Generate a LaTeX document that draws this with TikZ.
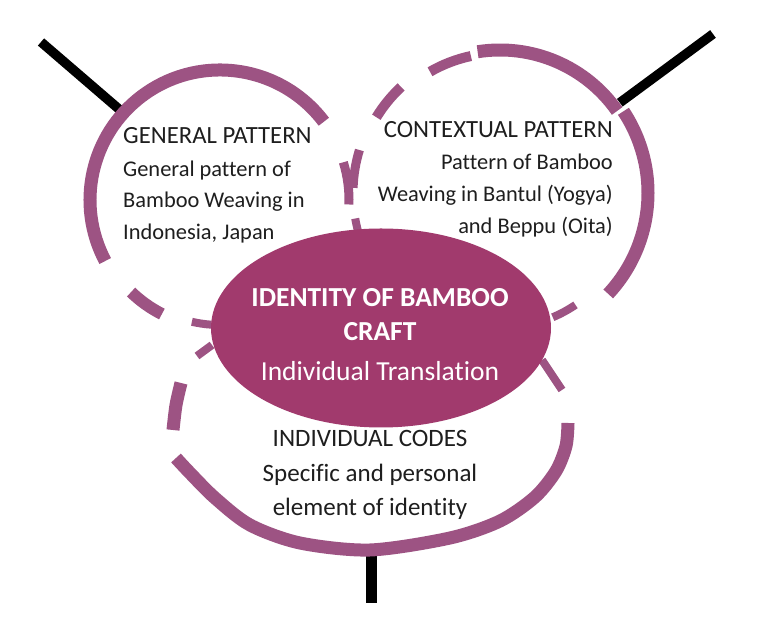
\documentclass[tikz,border=0pt]{standalone}
\usepackage{fontspec}
\setmainfont{Carlito}[Ligatures={NoCommon,NoContextual}]
\usetikzlibrary{shapes.geometric,calc}
\definecolor{RingMauve}{HTML}{9D5383}
\definecolor{HubPlum}  {HTML}{A13A6D}
\definecolor{InkGray}  {HTML}{1E1E1E}

\begin{document}
\begin{tikzpicture}[x=1pt,y=1pt,
    ring/.style={draw=RingMauve,line width=#1},
    ring/.default=13pt,
    stick/.style={draw=black,line width=9.5pt},
    headtxt/.style={text=InkGray,inner sep=0pt,font=\fontsize{24.7}{30}\selectfont},
    bodytxt/.style={text=InkGray,inner sep=0pt,font=\fontsize{22.4}{30}\selectfont},
    lowtxt/.style={text=InkGray,inner sep=0pt,font=\fontsize{25}{30}\selectfont},
    hubtxt/.style={text=white,inner sep=0pt,anchor=base,font=\fontsize{27.5}{32}\selectfont}]
    \fill[white] (0,0) rectangle (768,636);
    \useasboundingbox (0,0) rectangle (768,636);
    \coordinate (genC) at (220,436);
    \coordinate (ctxC) at (500,443);
    % black sticks
    \coordinate (genTip) at ([shift={(138:133pt)}]genC);
    \coordinate (genEnd) at (41,594);
    \coordinate (ctxTip) at ([shift={(37:150pt)}]ctxC);
    \coordinate (ctxEnd) at (713,602);
    \coordinate (indTip) at (371.5,84);
    \coordinate (indEnd) at (371.5,33);
    \draw[stick] (genTip) -- (genEnd);
    \draw[stick] (ctxTip) -- (ctxEnd);
    \draw[stick,line width=11pt] (indTip) -- (indEnd);
    % general pattern ring
    \foreach \a/\b/\r/\w in {37/208/130pt/13pt, -2/17/129pt/9pt, 226/243/128pt/12pt, 257/266/125pt/8pt}{
      \draw[ring=\w] ([shift={(\a:\r)}]genC) arc[start angle=\a,end angle=\b,radius=\r];
    }
    % contextual pattern ring
    \foreach \a/\b/\r/\w in {35/99/143pt/13pt, 102/120/140pt/10pt, 133/148.5/145pt/10pt,
                             163/178/147pt/9pt, 190/195/147pt/8pt, -43/33.5/148pt/13pt, -67/-56/135pt/8pt}{
      \draw[ring=\w] ([shift={(\a:\r)}]ctxC) arc[start angle=\a,end angle=\b,radius=\r];
    }
    % individual codes ring
    \draw[ring] plot[smooth] coordinates {(176,178) (190,163) (215,138) (250,111) (300,93) (370,86)
      (450,98) (500,115) (535,139) (556,165) (566,190) (568,213)};
    \draw[ring] plot[smooth] coordinates {(181,253) (176,231) (173,206)};
    \draw[ring=8pt] (197,280) -- (212,291);
    \draw[ring=8pt] (542,276) -- (562,246);
    % centre
    \node[ellipse,fill=HubPlum,minimum width=340pt,minimum height=199pt,inner sep=0pt] (hub) at (381,308) {};
    \node[hubtxt,font=\fontsize{27.5}{32}\selectfont\bfseries] (hubA) at (380,329) {IDENTITY OF BAMBOO};
    \node[hubtxt,font=\fontsize{27.5}{32}\selectfont\bfseries] (hubB) at (380,295) {CRAFT};
    \node[hubtxt] (hubC) at (380,255) {Individual Translation};
    % texts
    \node[headtxt,anchor=base west] (genT) at (123,492) {GENERAL PATTERN};
    \foreach \i/\y/\txt in {1/459/General pattern of, 2/428/Bamboo Weaving in, 3/396/{Indonesia, Japan}}{
      \node[bodytxt,anchor=base west] (gen\i) at (123,\y) {\txt};
    }
    \node[headtxt,anchor=base east] (ctxT) at (613,498) {CONTEXTUAL PATTERN};
    \foreach \i/\y/\txt in {1/466/Pattern of Bamboo, 2/434/Weaving in Bantul (Yogya), 3/402/and Beppu (Oita)}{
      \node[bodytxt,anchor=base east] (ctx\i) at (613,\y) {\txt};
    }
    \node[lowtxt,anchor=base] (indT) at (370,189) {INDIVIDUAL CODES};
    \node[lowtxt,anchor=base] (ind1) at (370,154) {Specific and personal};
    \node[lowtxt,anchor=base] (ind2) at (370,120) {element of identity};
\end{tikzpicture}
\end{document}
